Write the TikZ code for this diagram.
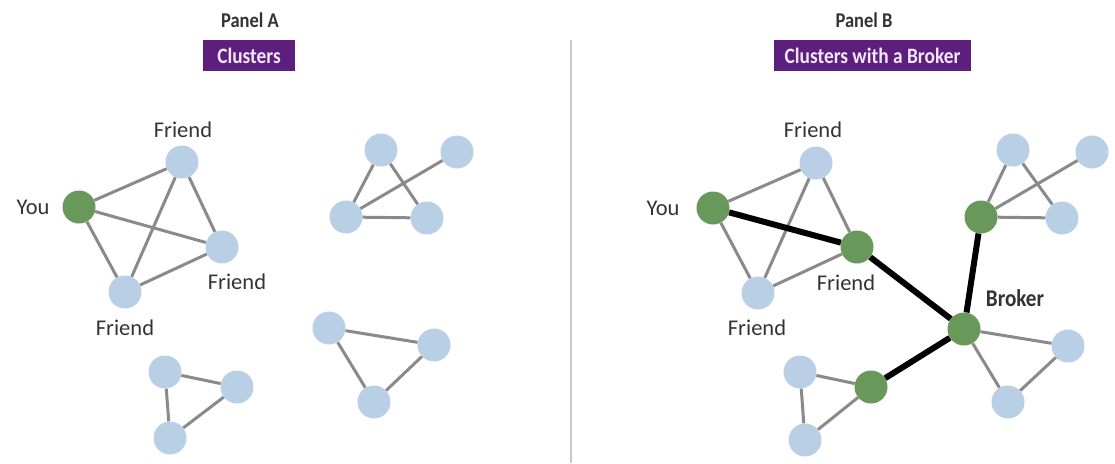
\documentclass[tikz,border=0pt]{standalone}
\usepackage{fontspec}
\setmainfont{Carlito}
\newfontfamily\headfont[FakeStretch=0.88]{Carlito}
\definecolor{paleblue}{HTML}{B9CFE6}
\definecolor{leafgreen}{HTML}{68985A}
\definecolor{tiegray}{HTML}{8A8A8A}
\definecolor{inkgray}{HTML}{333333}
\definecolor{plum}{HTML}{5C1F7E}
\definecolor{lavender}{HTML}{F2E6F8}

\begin{document}
\begin{tikzpicture}[x=1pt,y=-1pt,
  pal/.style={circle,fill=paleblue,minimum size=33pt,inner sep=0pt},
  grn/.style={circle,fill=leafgreen,minimum size=33pt,inner sep=0pt},
  tie/.style={draw=tiegray,line width=3pt},
  bridge/.style={draw=black,line width=6pt},
  lbl/.style={text=inkgray,font=\fontsize{22.5}{24}\selectfont},
  head/.style={text=inkgray,font=\headfont\bfseries\fontsize{21}{22}\selectfont},
  banner/.style={fill=plum,text=lavender,minimum height=31pt,inner sep=0pt,
    font=\headfont\bfseries\fontsize{22}{23}\selectfont}]
\useasboundingbox (0,0) rectangle (1115,463);

% headings
\node[head] (pa) at (250,20) {Panel A};
\node[banner,minimum width=92pt] (ba) at (249,55.5) {Clusters};
\node[head] (pb) at (864,20) {Panel B};
\node[banner,minimum width=197pt] (bb) at (872.5,55.5) {Clusters with a Broker};

% divider
\coordinate (d1) at (571,40);
\coordinate (d2) at (571,463);
\path[draw=black!22,line width=1.5pt] (d1) -- (d2);

% panel A
\node[grn] (a1) at (79,207) {};
\node[pal] (a2) at (182,162) {};
\node[pal] (a3) at (222,247) {};
\node[pal] (a4) at (125,292) {};
\node[pal] (a5) at (381,150) {};
\node[pal] (a6) at (457,152) {};
\node[pal] (a7) at (346,217) {};
\node[pal] (a8) at (427,218) {};
\node[pal] (a9) at (329,328) {};
\node[pal] (a10) at (434,345) {};
\node[pal] (a11) at (374,402) {};
\node[pal] (a12) at (165,372) {};
\node[pal] (a13) at (237,387) {};
\node[pal] (a14) at (170,438) {};
\path[tie] (a1) -- (a2);
\path[tie] (a1) -- (a3);
\path[tie] (a1) -- (a4);
\path[tie] (a2) -- (a3);
\path[tie] (a2) -- (a4);
\path[tie] (a4) -- (a3);
\path[tie] (a5) -- (a7);
\path[tie] (a5) -- (a8);
\path[tie] (a7) -- (a8);
\path[tie] (a7) -- (a6);
\path[tie] (a9) -- (a10);
\path[tie] (a9) -- (a11);
\path[tie] (a11) -- (a10);
\path[tie] (a12) -- (a13);
\path[tie] (a12) -- (a14);
\path[tie] (a14) -- (a13);
\node[lbl] (ya) at (33,207) {You};
\node[lbl] (fa1) at (183,130) {Friend};
\node[lbl] (fa2) at (237,282) {Friend};
\node[lbl] (fa3) at (125,328) {Friend};

% panel B
\node[grn] (b1) at (713,208) {};
\node[pal] (b2) at (816,163) {};
\node[grn] (b3) at (857,247) {};
\node[pal] (b4) at (758,293) {};
\node[pal] (b5) at (1013,150) {};
\node[pal] (b6) at (1092,152) {};
\node[grn] (b7) at (981,217) {};
\node[pal] (b8) at (1062,218) {};
\node[grn] (b9) at (964,329) {};
\node[pal] (b10) at (1068,346) {};
\node[pal] (b11) at (1008,402) {};
\node[pal] (b12) at (800,372) {};
\node[grn] (b13) at (871,387) {};
\node[pal] (b14) at (805,440) {};
\path[tie] (b1) -- (b2);
\path[tie] (b1) -- (b4);
\path[tie] (b2) -- (b3);
\path[tie] (b2) -- (b4);
\path[tie] (b4) -- (b3);
\path[tie] (b5) -- (b7);
\path[tie] (b5) -- (b8);
\path[tie] (b7) -- (b8);
\path[tie] (b7) -- (b6);
\path[tie] (b9) -- (b10);
\path[tie] (b9) -- (b11);
\path[tie] (b11) -- (b10);
\path[tie] (b12) -- (b13);
\path[tie] (b12) -- (b14);
\path[tie] (b14) -- (b13);
\path[bridge] (b1) -- (b3);
\path[bridge] (b3) -- (b9);
\path[bridge] (b7) -- (b9);
\path[bridge] (b13) -- (b9);
\node[lbl] (yb) at (663,208) {You};
\node[lbl] (fb1) at (813,130) {Friend};
\node[lbl] (fb2) at (846,283) {Friend};
\node[lbl] (fb3) at (757,328) {Friend};
\node[head,font=\headfont\bfseries\fontsize{24}{25}\selectfont] (br) at (1015,298) {Broker};
\end{tikzpicture}
\end{document}
